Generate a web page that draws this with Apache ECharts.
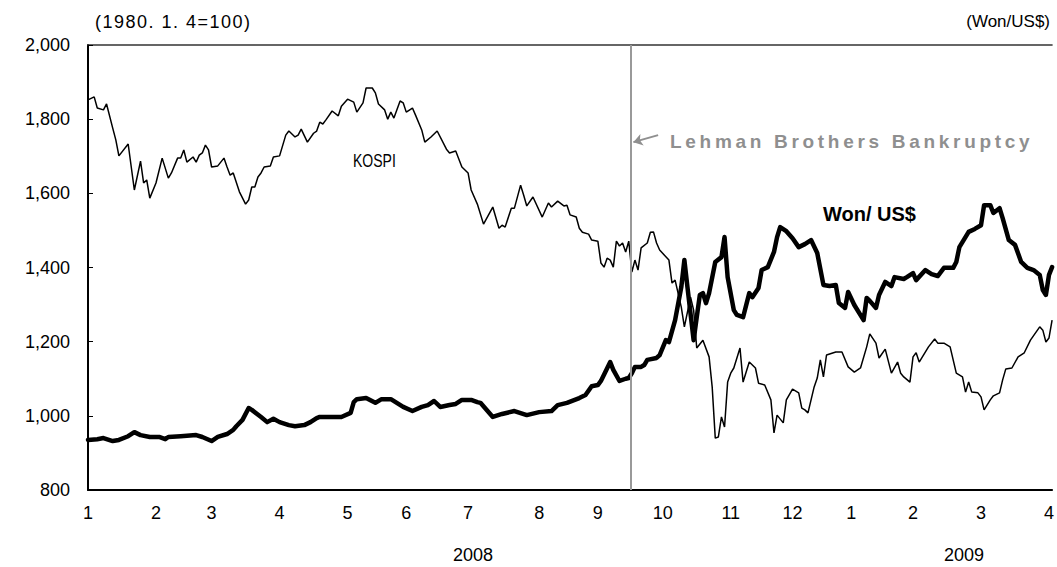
<!DOCTYPE html>
<html>
<head>
<meta charset="utf-8">
<script src="https://cdn.jsdelivr.net/npm/echarts@6/dist/echarts.min.js"></script>
<style>
  html, body { margin: 0; padding: 0; background: #fff; }
  #chart { width: 1057px; height: 567px; }
  /* the original is typeset with loose tracking on these two texts */
  #chart text[fill="#8f8f8f"] { letter-spacing: 3.7px; }
  #chart text[fill="#010101"] { letter-spacing: 1.5px; }
</style>
</head>
<body>
<div id="chart"></div>
<script>
// trading-day index where each month starts (2008.1 ~ 2009.4)
const monthPos = [0, 22, 40, 62, 84, 103, 123, 146, 165, 186, 208, 228, 247, 267, 289, 311]
const monthLabels = ['1', '2', '3', '4', '5', '6', '7', '8', '9', '10', '11', '12', '1', '2', '3', '4']
const lehmanDay = 175.5

// KOSPI (1980.1.4=100)
const kospiDays = [0, 2, 3, 5, 6, 8, 9, 10, 13, 15, 17, 18, 19, 20, 22, 24, 26, 27, 29, 30, 31, 32, 34, 35, 36, 37, 38, 39, 40, 42, 44, 45, 46, 47, 49, 51, 52, 53, 54, 55, 56, 57, 59, 60, 62, 64, 65, 67, 68, 69, 71, 73, 74, 75, 76, 77, 79, 81, 82, 84, 86, 87, 89, 90, 92, 93, 94, 96, 97, 98, 99, 101, 102, 103, 105, 106, 108, 109, 111, 113, 116, 117, 119, 121, 123, 124, 126, 128, 131, 133, 134, 135, 137, 138, 140, 141, 142, 144, 147, 149, 150, 152, 154, 155, 156, 158, 159, 160, 162, 163, 165, 166, 167, 168, 169, 170, 171, 172, 173, 174, 175, 176, 177, 178, 179, 181, 182, 183, 184, 185, 188, 189, 190, 192, 193, 195, 196, 197, 199, 201, 202, 203, 204, 205, 206, 207, 208, 209, 211, 212, 214, 216, 217, 219, 221, 222, 223, 225, 226, 228, 230, 231, 232, 233, 235, 236, 237, 238, 239, 242, 244, 246, 248, 250, 252, 253, 255, 256, 258, 260, 262, 263, 264, 266, 267, 268, 269, 272, 274, 275, 277, 279, 281, 283, 284, 285, 286, 288, 289, 290, 292, 293, 295, 296, 297, 299, 301, 303, 305, 308, 309, 310, 311, 312]
const kospiVals = [1852, 1860, 1830, 1825, 1841, 1776, 1744, 1701, 1733, 1609, 1687, 1628, 1636, 1587, 1628, 1695, 1641, 1655, 1695, 1695, 1717, 1684, 1698, 1684, 1703, 1709, 1730, 1717, 1671, 1674, 1695, 1671, 1649, 1655, 1604, 1571, 1582, 1617, 1617, 1644, 1655, 1671, 1674, 1698, 1701, 1757, 1768, 1752, 1757, 1773, 1738, 1762, 1768, 1792, 1787, 1798, 1822, 1809, 1835, 1854, 1846, 1819, 1844, 1884, 1884, 1871, 1841, 1825, 1800, 1819, 1803, 1849, 1844, 1819, 1830, 1811, 1771, 1738, 1752, 1768, 1719, 1709, 1714, 1671, 1655, 1609, 1571, 1517, 1563, 1506, 1514, 1509, 1560, 1560, 1622, 1595, 1566, 1590, 1536, 1574, 1563, 1579, 1566, 1568, 1542, 1536, 1506, 1495, 1490, 1474, 1471, 1412, 1401, 1425, 1420, 1401, 1471, 1458, 1466, 1442, 1471, 1388, 1420, 1393, 1453, 1466, 1495, 1496, 1466, 1447, 1420, 1358, 1366, 1293, 1240, 1320, 1285, 1183, 1204, 1159, 1078, 940, 943, 997, 970, 1091, 1115, 1129, 1183, 1091, 1145, 1129, 1088, 1083, 1043, 954, 1002, 981, 1043, 1072, 1062, 1021, 1016, 1008, 1078, 1102, 1151, 1105, 1164, 1172, 1172, 1132, 1118, 1129, 1186, 1221, 1196, 1156, 1180, 1115, 1145, 1115, 1105, 1091, 1159, 1170, 1145, 1186, 1207, 1196, 1196, 1186, 1115, 1105, 1064, 1091, 1064, 1062, 1051, 1016, 1043, 1054, 1062, 1097, 1126, 1129, 1159, 1170, 1204, 1240, 1231, 1199, 1210, 1258]

// Won/US$
const wonDays = [0, 3, 5, 8, 10, 13, 15, 17, 20, 23, 25, 26, 30, 35, 37, 40, 42, 45, 47, 48, 50, 52, 53, 56, 58, 60, 62, 65, 67, 70, 72, 74, 75, 79, 82, 85, 86, 87, 90, 93, 95, 98, 102, 105, 108, 110, 112, 114, 117, 119, 121, 124, 126, 127, 131, 134, 138, 142, 146, 150, 152, 155, 159, 161, 163, 165, 166, 169, 170, 172, 174, 175, 176, 177, 179, 180, 181, 184, 185, 187, 188, 190, 192, 193, 194, 196, 197, 198, 199, 200, 201, 203, 205, 206, 207, 209, 210, 212, 214, 215, 217, 218, 220, 222, 223, 224, 226, 228, 230, 232, 234, 236, 238, 240, 242, 243, 245, 246, 248, 251, 252, 253, 255, 256, 258, 260, 261, 264, 265, 267, 268, 271, 273, 275, 277, 280, 281, 282, 285, 287, 289, 290, 292, 293, 295, 296, 298, 300, 302, 304, 306, 308, 309, 310, 311, 312]
const wonVals = [935, 937, 940, 932, 935, 945, 956, 948, 943, 943, 937, 943, 945, 948, 943, 932, 943, 951, 962, 972, 989, 1021, 1016, 997, 983, 992, 983, 975, 972, 975, 983, 994, 997, 997, 997, 1008, 1037, 1045, 1048, 1035, 1045, 1045, 1024, 1013, 1024, 1029, 1040, 1024, 1029, 1032, 1043, 1043, 1037, 1035, 997, 1005, 1013, 1002, 1010, 1013, 1029, 1035, 1048, 1056, 1080, 1083, 1094, 1145, 1124, 1094, 1100, 1102, 1115, 1132, 1132, 1137, 1151, 1156, 1164, 1204, 1199, 1258, 1347, 1420, 1347, 1204, 1266, 1326, 1331, 1304, 1331, 1415, 1428, 1482, 1374, 1285, 1272, 1266, 1331, 1320, 1345, 1393, 1401, 1442, 1482, 1509, 1498, 1479, 1455, 1463, 1474, 1439, 1353, 1350, 1353, 1304, 1291, 1334, 1299, 1258, 1318, 1310, 1291, 1326, 1361, 1350, 1374, 1369, 1374, 1385, 1366, 1393, 1382, 1377, 1399, 1399, 1415, 1455, 1496, 1504, 1514, 1568, 1568, 1547, 1560, 1533, 1474, 1461, 1415, 1399, 1393, 1380, 1339, 1326, 1380, 1401]

const zip = (xs, ys) => xs.map((x, i) => [x, ys[i]])
const FONT = '"Liberation Sans", Arial, sans-serif'
const GRAY = '#8f8f8f'

const chart = echarts.init(document.getElementById('chart'), null, { renderer: 'svg' })

chart.setOption({
  animation: false,
  grid: { left: 88, right: 2, top: 45, bottom: 77 },
  xAxis: [
    {
      type: 'value',
      min: 0,
      max: 312,
      axisLine: { lineStyle: { color: '#000', width: 2 } },
      axisTick: { show: false },
      splitLine: { show: false },
      axisLabel: {
        customValues: monthPos,
        formatter: (v) => monthLabels[monthPos.indexOf(v)],
        color: '#000',
        fontSize: 18,
        fontFamily: FONT,
        margin: 14,
        hideOverlap: false,
      },
    },
    {
      type: 'value',
      position: 'top',
      min: 0,
      max: 312,
      axisLine: { show: true, lineStyle: { color: '#333', width: 1.5 } },
      axisTick: { show: false },
      axisLabel: { show: false },
      splitLine: { show: false },
    },
  ],
  yAxis: {
    type: 'value',
    min: 800,
    max: 2000,
    interval: 200,
    axisLine: { show: true, lineStyle: { color: '#000', width: 2 } },
    axisTick: { show: true, inside: true, length: 5, lineStyle: { color: '#000' } },
    splitLine: { show: false },
    axisLabel: {
      formatter: (v) => v.toLocaleString('en-US'),
      color: '#000',
      fontSize: 18,
      fontFamily: FONT,
      margin: 18,
    },
  },
  series: [
    {
      name: 'KOSPI',
      type: 'line',
      data: zip(kospiDays, kospiVals),
      showSymbol: false,
      lineStyle: { color: '#000', width: 1.5 },
      markLine: {
        silent: true,
        symbol: 'none',
        label: { show: false },
        lineStyle: { color: '#999', width: 2, type: 'solid' },
        data: [{ xAxis: lehmanDay }],
      },
    },
    {
      name: 'Won/US$',
      type: 'line',
      data: zip(wonDays, wonVals),
      showSymbol: false,
      lineStyle: { color: '#000', width: 4.5, cap: 'round', join: 'round' },
      markLine: {
        silent: true,
        symbol: ['none', 'arrow'],
        symbolSize: 9,
        label: { show: false },
        lineStyle: { color: GRAY, width: 2, type: 'solid' },
        data: [[{ coord: [184.5, 1757] }, { coord: [176.5, 1738] }]],
      },
    },
  ],
  graphic: [
    { type: 'text', left: 95, top: 13, style: { text: '(1980. 1. 4=100)', font: '18px ' + FONT, fill: '#010101' } },
    { type: 'text', right: 7, top: 13, style: { text: '(Won/US$)', font: '17px ' + FONT, fill: '#000' } },
    { type: 'text', left: 353, top: 151, scaleX: 0.78, style: { text: 'KOSPI', font: '18px ' + FONT, fill: '#000' } },
    { type: 'text', left: 823, top: 204, style: { text: 'Won/ US$', font: 'bold 20px ' + FONT, fill: '#000' } },
    { type: 'text', left: 670, top: 132, style: { text: 'Lehman Brothers Bankruptcy', font: 'bold 19px ' + FONT, fill: GRAY } },
    { type: 'text', left: 453, top: 546, style: { text: '2008', font: '18px ' + FONT, fill: '#000' } },
    { type: 'text', left: 944, top: 546, style: { text: '2009', font: '18px ' + FONT, fill: '#000' } },
  ],
})

window.addEventListener('resize', () => chart.resize())
</script>
</body>
</html>
